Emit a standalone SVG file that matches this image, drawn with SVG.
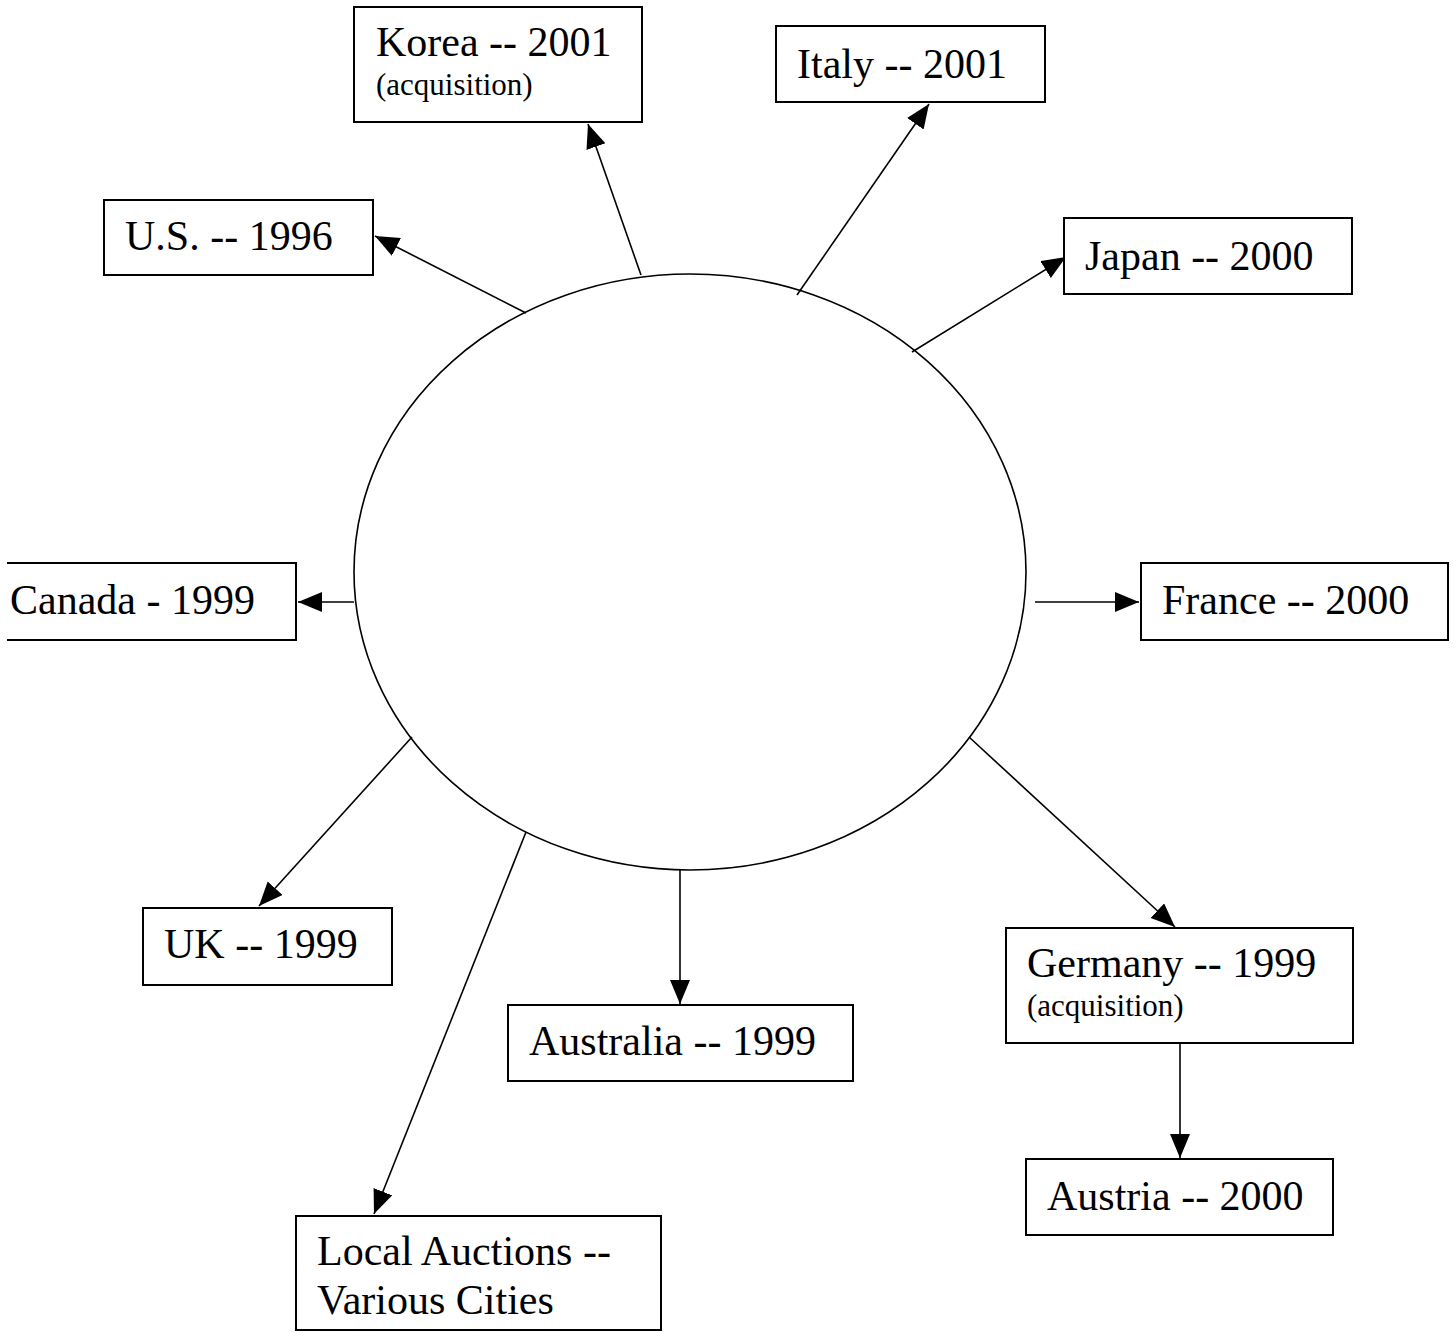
<svg xmlns="http://www.w3.org/2000/svg" width="1453" height="1332" viewBox="0 0 1453 1332">
<style>
.box{fill:#fff;stroke:#000;stroke-width:2}
.t{font-family:"Liberation Serif","Times New Roman",serif;font-size:42px;fill:#000}
.s{font-family:"Liberation Serif","Times New Roman",serif;font-size:31px;fill:#000}
.c{stroke:#000;stroke-width:1.6;fill:none;marker-end:url(#ah)}
</style>
<defs>
<marker id="ah" markerUnits="userSpaceOnUse" markerWidth="26" markerHeight="22" refX="24" refY="10" orient="auto">
<path d="M0,0 L24,10 L0,20 z" fill="#000"/>
</marker>
</defs>
<rect width="1453" height="1332" fill="#fff"/>
<g id="hub"><ellipse cx="690" cy="572" rx="336" ry="298" fill="none" stroke="#000" stroke-width="1.6"/></g>
<g id="connectors">
<line class="c" x1="526" y1="313" x2="375" y2="236"/>
<line class="c" x1="641" y1="275" x2="588" y2="124"/>
<line class="c" x1="797" y1="295" x2="929" y2="104"/>
<line class="c" x1="912" y1="352" x2="1066" y2="257"/>
<line class="c" x1="354" y1="602" x2="298" y2="602"/>
<line class="c" x1="1035" y1="602" x2="1139" y2="602"/>
<line class="c" x1="412" y1="737" x2="259" y2="906"/>
<line class="c" x1="526" y1="832" x2="374" y2="1214"/>
<line class="c" x1="680" y1="870" x2="680" y2="1004"/>
<line class="c" x1="969" y1="737" x2="1175" y2="927"/>
<line class="c" x1="1180" y1="1044" x2="1180" y2="1158"/>
</g>
<g id="korea"><rect class="box" x="354" y="7" width="288" height="115"/><text class="t" x="376" y="56">Korea -- 2001</text><text class="s" x="376" y="95">(acquisition)</text></g>
<g id="italy"><rect class="box" x="776" y="26" width="269" height="76"/><text class="t" x="797" y="78">Italy -- 2001</text></g>
<g id="us"><rect class="box" x="104" y="200" width="269" height="75"/><text class="t" x="125" y="250">U.S. -- 1996</text></g>
<g id="japan"><rect class="box" x="1064" y="218" width="288" height="76"/><text class="t" x="1085" y="270">Japan -- 2000</text></g>
<g id="canada"><path d="M7,563 H296 V640 H7" fill="#fff" stroke="#000" stroke-width="2"/><text class="t" x="10" y="614">Canada - 1999</text></g>
<g id="france"><rect class="box" x="1141" y="563" width="307" height="77"/><text class="t" x="1162" y="614">France -- 2000</text></g>
<g id="uk"><rect class="box" x="143" y="908" width="249" height="77"/><text class="t" x="164" y="958">UK -- 1999</text></g>
<g id="australia"><rect class="box" x="508" y="1005" width="345" height="76"/><text class="t" x="529" y="1055">Australia -- 1999</text></g>
<g id="germany"><rect class="box" x="1006" y="928" width="347" height="115"/><text class="t" x="1027" y="977">Germany -- 1999</text><text class="s" x="1027" y="1016">(acquisition)</text></g>
<g id="austria"><rect class="box" x="1026" y="1159" width="307" height="76"/><text class="t" x="1047" y="1210">Austria -- 2000</text></g>
<g id="local"><rect class="box" x="296" y="1216" width="365" height="114"/><text class="t" x="317" y="1265">Local Auctions --</text><text class="t" x="317" y="1314">Various Cities</text></g>
</svg>
